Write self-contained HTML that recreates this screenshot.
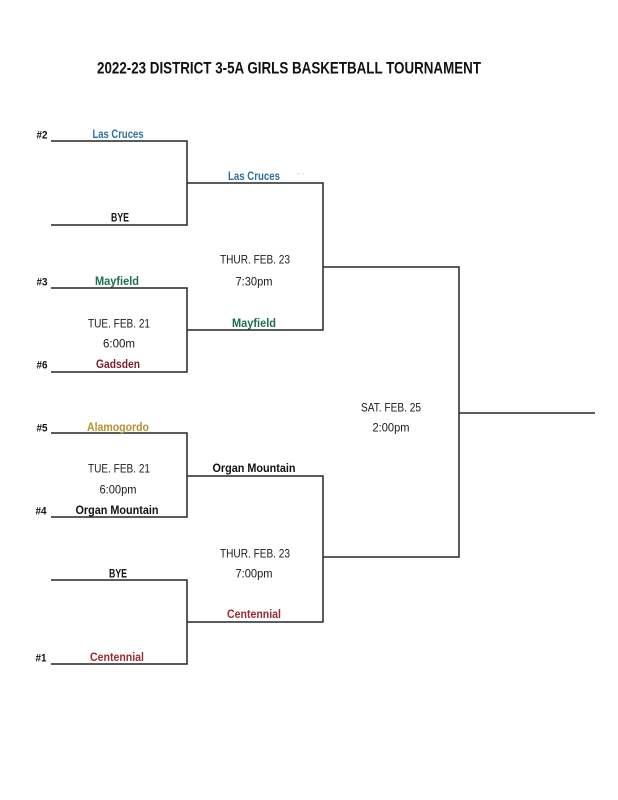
<!DOCTYPE html>
<html>
<head>
<meta charset="utf-8">
<style>
html,body{margin:0;padding:0;background:#fff;}
svg{display:block;}
text{font-family:"Liberation Sans",Arial,sans-serif;}
.t{font-weight:bold;font-size:11.5px;}
.d{font-size:12px;fill:#1a1a1a;}
.s{font-weight:bold;font-size:11px;fill:#111;}
</style>
</head>
<body>
<svg width="618" height="800" viewBox="0 0 618 800" xmlns="http://www.w3.org/2000/svg">
<rect width="618" height="800" fill="#fff"/>
<text x="289" y="73.5" text-anchor="middle" font-weight="bold" font-size="16.5" fill="#111" textLength="384" lengthAdjust="spacingAndGlyphs">2022-23 DISTRICT 3-5A GIRLS BASKETBALL TOURNAMENT</text>

<g stroke="#262626" stroke-width="1.5" fill="none">
<polyline points="51,141 187,141 187,225 51,225"/>
<polyline points="51,288 187,288 187,372 51,372"/>
<polyline points="51,433 187,433 187,517 51,517"/>
<polyline points="51,580 187,580 187,664 51,664"/>
<polyline points="187,183 323,183 323,330 187,330"/>
<polyline points="187,476 323,476 323,622 187,622"/>
<polyline points="323,267 459,267 459,557 323,557"/>
<line x1="459" y1="413" x2="595" y2="413"/>
</g>

<text class="s" x="42" y="138.5" text-anchor="middle" textLength="11" lengthAdjust="spacingAndGlyphs">#2</text>
<text class="s" x="42" y="285.5" text-anchor="middle" textLength="11" lengthAdjust="spacingAndGlyphs">#3</text>
<text class="s" x="42" y="368.5" text-anchor="middle" textLength="11" lengthAdjust="spacingAndGlyphs">#6</text>
<text class="s" x="42" y="431.5" text-anchor="middle" textLength="11" lengthAdjust="spacingAndGlyphs">#5</text>
<text class="s" x="41" y="514.5" text-anchor="middle" textLength="11" lengthAdjust="spacingAndGlyphs">#4</text>
<text class="s" x="41" y="661.5" text-anchor="middle" textLength="11" lengthAdjust="spacingAndGlyphs">#1</text>

<text class="t" x="118" y="138" text-anchor="middle" fill="#2b6fa0" textLength="51" lengthAdjust="spacingAndGlyphs">Las Cruces</text>
<text class="t" x="120" y="221.5" text-anchor="middle" fill="#111" textLength="18" lengthAdjust="spacingAndGlyphs">BYE</text>
<text class="t" x="117" y="285" text-anchor="middle" fill="#1f6e4f" textLength="44" lengthAdjust="spacingAndGlyphs">Mayfield</text>
<text class="t" x="118" y="368" text-anchor="middle" fill="#7a1f2b" textLength="44" lengthAdjust="spacingAndGlyphs">Gadsden</text>
<text class="t" x="118" y="431" text-anchor="middle" fill="#b8912c" textLength="62" lengthAdjust="spacingAndGlyphs">Alamogordo</text>
<text class="t" x="117" y="514" text-anchor="middle" fill="#111" textLength="83" lengthAdjust="spacingAndGlyphs">Organ Mountain</text>
<text class="t" x="118" y="577.5" text-anchor="middle" fill="#111" textLength="18" lengthAdjust="spacingAndGlyphs">BYE</text>
<text class="t" x="117" y="661" text-anchor="middle" fill="#9b2b30" textLength="54" lengthAdjust="spacingAndGlyphs">Centennial</text>

<text class="d" x="119" y="327.5" text-anchor="middle" textLength="62" lengthAdjust="spacingAndGlyphs">TUE. FEB. 21</text>
<text class="d" x="119" y="347.5" text-anchor="middle" textLength="32" lengthAdjust="spacingAndGlyphs">6:00m</text>
<text class="d" x="119" y="472.5" text-anchor="middle" textLength="62" lengthAdjust="spacingAndGlyphs">TUE. FEB. 21</text>
<text class="d" x="118" y="493.5" text-anchor="middle" textLength="37" lengthAdjust="spacingAndGlyphs">6:00pm</text>

<text class="t" x="254" y="180" text-anchor="middle" fill="#2b6fa0" textLength="52" lengthAdjust="spacingAndGlyphs">Las Cruces</text>
<text class="t" x="254" y="327" text-anchor="middle" fill="#1f6e4f" textLength="44" lengthAdjust="spacingAndGlyphs">Mayfield</text>
<text class="t" x="254" y="472" text-anchor="middle" fill="#111" textLength="83" lengthAdjust="spacingAndGlyphs">Organ Mountain</text>
<text class="t" x="254" y="618" text-anchor="middle" fill="#9b2b30" textLength="54" lengthAdjust="spacingAndGlyphs">Centennial</text>
<text x="297" y="176" font-size="8" fill="#bbb">- -</text>

<text class="d" x="255" y="263.5" text-anchor="middle" textLength="70" lengthAdjust="spacingAndGlyphs">THUR. FEB. 23</text>
<text class="d" x="254" y="285.5" text-anchor="middle" textLength="37" lengthAdjust="spacingAndGlyphs">7:30pm</text>
<text class="d" x="255" y="557.5" text-anchor="middle" textLength="70" lengthAdjust="spacingAndGlyphs">THUR. FEB. 23</text>
<text class="d" x="254" y="577.5" text-anchor="middle" textLength="37" lengthAdjust="spacingAndGlyphs">7:00pm</text>

<text class="d" x="391" y="411.5" text-anchor="middle" textLength="60" lengthAdjust="spacingAndGlyphs">SAT. FEB. 25</text>
<text class="d" x="391" y="431.5" text-anchor="middle" textLength="37" lengthAdjust="spacingAndGlyphs">2:00pm</text>
</svg>
</body>
</html>
